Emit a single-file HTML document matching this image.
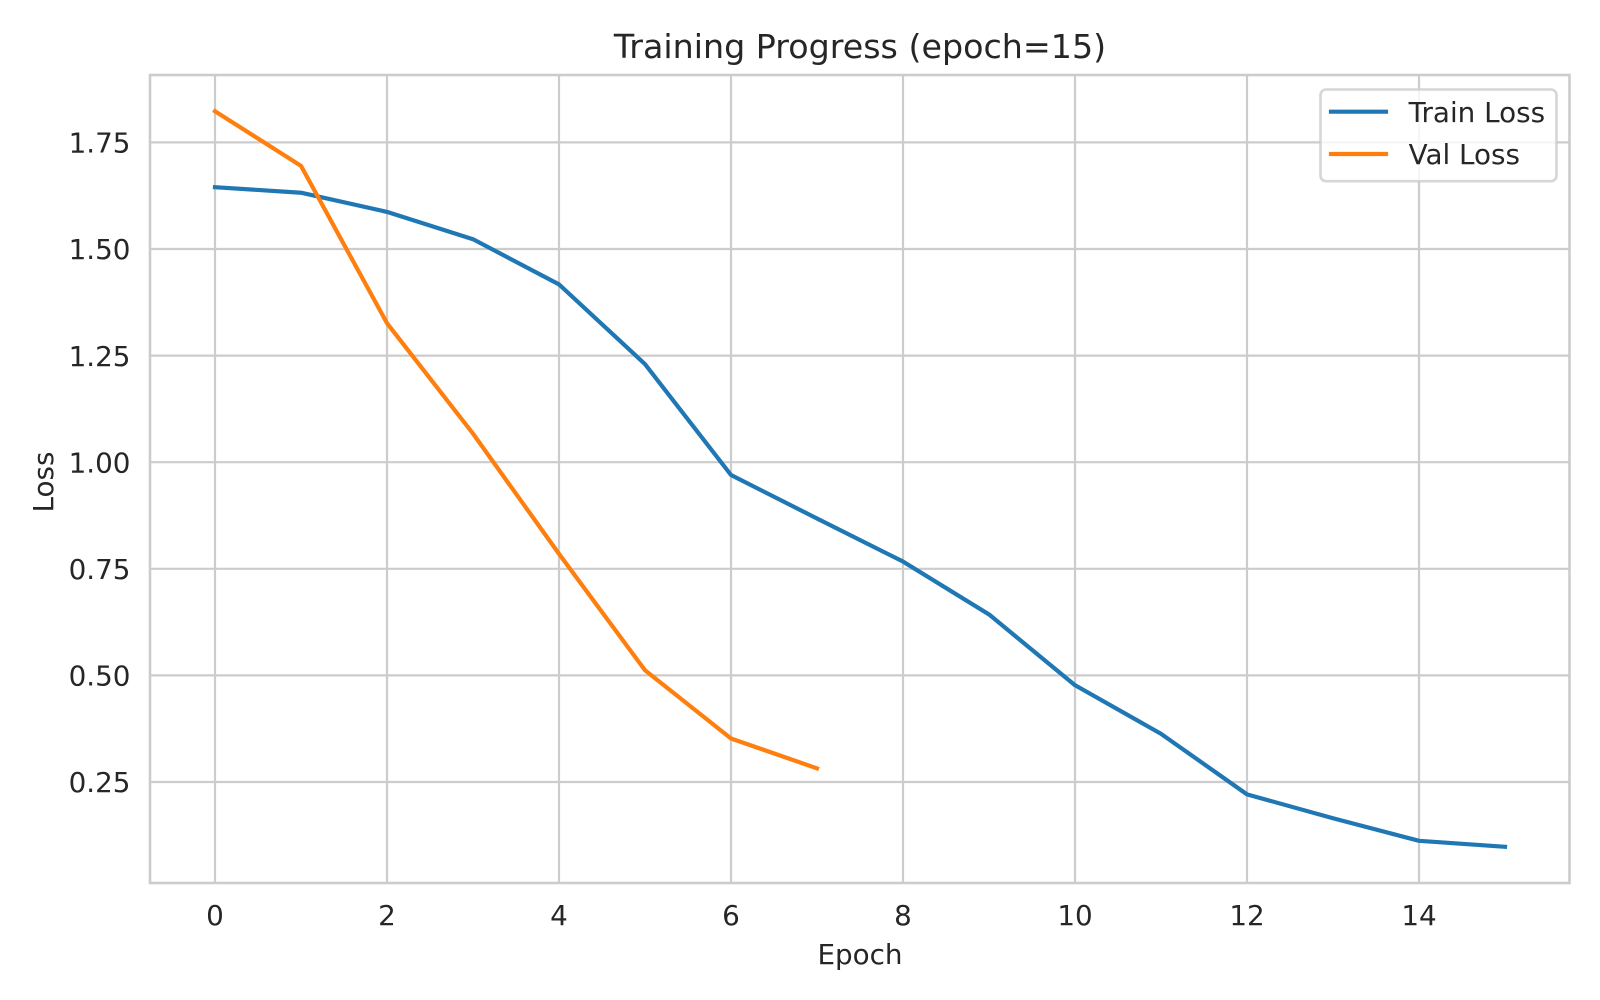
<!DOCTYPE html>
<html lang="en">
<head>
<meta charset="utf-8">
<title>Training Progress</title>
<style>
html,body{margin:0;padding:0;background:#fff;}
svg{display:block;}
text{font-family:"DejaVu Sans","Liberation Sans",sans-serif;fill:#262626;}
</style>
</head>
<body>
<svg id="chart" xmlns="http://www.w3.org/2000/svg" width="1600" height="1000" viewBox="0 0 1600 1000">
  <rect x="0" y="0" width="1600" height="1000" fill="#ffffff"/>
  <g id="grid"></g>
  <g id="series"></g>
  <rect x="150" y="75" width="1419.5" height="808" fill="none" stroke="#cccccc" stroke-width="2.6"/>
  <g id="xticks"></g>
  <g id="yticks"></g>
  <text x="860" y="58" font-size="33.3" text-anchor="middle">Training Progress (epoch=15)</text>
  <text x="860" y="964" font-size="27.8" text-anchor="middle">Epoch</text>
  <text x="53" y="482" font-size="27.8" text-anchor="middle" transform="rotate(-90 53 482)">Loss</text>
  <g>
    <rect x="1320.5" y="89.5" width="236" height="91.7" rx="5.5" ry="5.5" fill="#ffffff" fill-opacity="0.8" stroke="#cccccc" stroke-opacity="0.8" stroke-width="2.6"/>
    <line x1="1331" y1="111.7" x2="1386" y2="111.7" stroke="#1f77b4" stroke-width="4.2" stroke-linecap="square"/>
    <text x="1408.6" y="122" font-size="27.8">Train Loss</text>
    <line x1="1331" y1="154" x2="1386" y2="154" stroke="#ff7f0e" stroke-width="4.2" stroke-linecap="square"/>
    <text x="1408.6" y="164" font-size="27.8">Val Loss</text>
  </g>
</svg>
<script>
const xTicks = [0, 2, 4, 6, 8, 10, 12, 14];
const yTicks = ["0.25", "0.50", "0.75", "1.00", "1.25", "1.50", "1.75"];
const trainEpochs = [0, 1, 2, 3, 4, 5, 6, 7, 8, 9, 10, 11, 12, 13, 14, 15];
const trainLoss = [1.645, 1.632, 1.587, 1.523, 1.417, 1.230, 0.970, 0.868, 0.767, 0.643, 0.477, 0.363, 0.221, 0.165, 0.112, 0.098];
const valEpochs = [0, 1, 2, 3, 4, 5, 6, 7];
const valLoss = [1.823, 1.695, 1.326, 1.067, 0.785, 0.512, 0.352, 0.282];

const NS = 'http://www.w3.org/2000/svg';
function xScale(v) { return 215 + v * 86; }
function yScale(v) { return 249 + (1.5 - v) * 426.4; }
function points(xs, ys) {
  return xs.map(function (x, i) { return xScale(x).toFixed(2) + ',' + yScale(ys[i]).toFixed(2); }).join(' ');
}
const grid = document.getElementById('grid');
const xt = document.getElementById('xticks');
const yt = document.getElementById('yticks');
const series = document.getElementById('series');

xTicks.forEach(function (t) {
  const l = document.createElementNS(NS, 'line');
  
  
  l.setAttribute('x1', xScale(t));
  l.setAttribute('x2', xScale(t));
  l.setAttribute('y1', 75);
  l.setAttribute('y2', 883);
  l.setAttribute('stroke', '#cccccc');
  l.setAttribute('stroke-width', '2.2');
  grid.appendChild(l);
  const s = document.createElementNS(NS, 'text');
  
  
  s.setAttribute('x', xScale(t));
  s.setAttribute('y', 925);
  s.setAttribute('font-size', '27.8');
  s.setAttribute('text-anchor', 'middle');
  s.textContent = t;
  xt.appendChild(s);
});
yTicks.forEach(function (t) {
  const v = parseFloat(t);
  const l = document.createElementNS(NS, 'line');
  
  
  l.setAttribute('x1', 150);
  l.setAttribute('x2', 1569.5);
  l.setAttribute('y1', yScale(v));
  l.setAttribute('y2', yScale(v));
  l.setAttribute('stroke', '#cccccc');
  l.setAttribute('stroke-width', '2.2');
  grid.appendChild(l);
  const s = document.createElementNS(NS, 'text');
  
  
  s.setAttribute('x', 130.5);
  s.setAttribute('y', yScale(v) + 10.2);
  s.setAttribute('font-size', '27.8');
  s.setAttribute('text-anchor', 'end');
  s.textContent = t;
  yt.appendChild(s);
});

const trainLine = document.createElementNS(NS, 'polyline');


trainLine.setAttribute('points', points(trainEpochs, trainLoss));
trainLine.setAttribute('fill', 'none');
trainLine.setAttribute('stroke', '#1f77b4');
trainLine.setAttribute('stroke-width', '4.2');
trainLine.setAttribute('stroke-linejoin', 'round');
trainLine.setAttribute('stroke-linecap', 'square');
series.appendChild(trainLine);

const valLine = document.createElementNS(NS, 'polyline');


valLine.setAttribute('points', points(valEpochs, valLoss));
valLine.setAttribute('fill', 'none');
valLine.setAttribute('stroke', '#ff7f0e');
valLine.setAttribute('stroke-width', '4.2');
valLine.setAttribute('stroke-linejoin', 'round');
valLine.setAttribute('stroke-linecap', 'square');
series.appendChild(valLine);
</script>
</body>
</html>
